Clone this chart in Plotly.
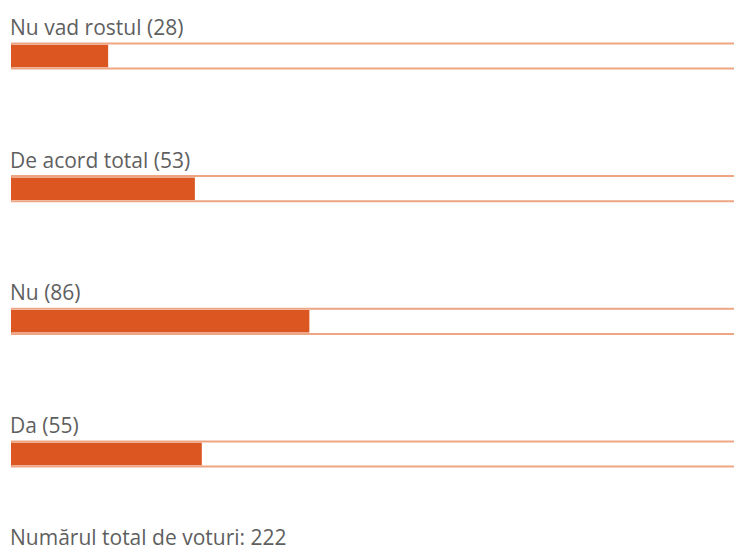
import plotly.graph_objects as go

categories = ["Nu vad rostul", "De acord total", "Nu", "Da"]
votes = [28, 53, 86, 55]
total_votes = 222

labels = [f"{c} ({v})" for c, v in zip(categories, votes)]

fill_color = "#DC5622"
border_color = "#EDA582"
text_color = "#5f5f5f"
font_family = "Open Sans"

fig = go.Figure()
fig.add_trace(go.Bar(
    y=categories, x=[total_votes] * len(categories), orientation="h",
    marker=dict(color="white", line=dict(color=border_color, width=2)),
    width=0.19, hoverinfo="skip", showlegend=False,
))
fig.add_trace(go.Bar(
    y=categories, x=votes, orientation="h",
    marker=dict(color=fill_color, line=dict(width=0)),
    width=0.17, showlegend=False,
))

for c, lab in zip(categories, labels):
    fig.add_annotation(x=0, y=c, xref="x", yref="y", text=lab, showarrow=False,
                       xanchor="left", yanchor="middle", yshift=29, xshift=-3,
                       font=dict(family=font_family, size=21, color=text_color))

fig.add_annotation(x=0, y=1 - 537 / 551, xref="x", yref="paper",
                   text=f"Numărul total de voturi: {total_votes}",
                   showarrow=False, xanchor="left", yanchor="middle", xshift=-3,
                   font=dict(family=font_family, size=21, color=text_color))

fig.update_layout(
    width=734, height=551,
    margin=dict(l=11, r=0, t=0, b=0),
    paper_bgcolor="white", plot_bgcolor="white",
    barmode="overlay",
    xaxis=dict(range=[0, 208.4], visible=False, fixedrange=True),
    yaxis=dict(range=[3.731, -0.422], visible=False, categoryorder="array",
               categoryarray=categories, fixedrange=True),
)

fig.write_html("out.html", config={"displayModeBar": False},
               post_script="document.body.style.margin='0';document.body.style.overflow='hidden';")
